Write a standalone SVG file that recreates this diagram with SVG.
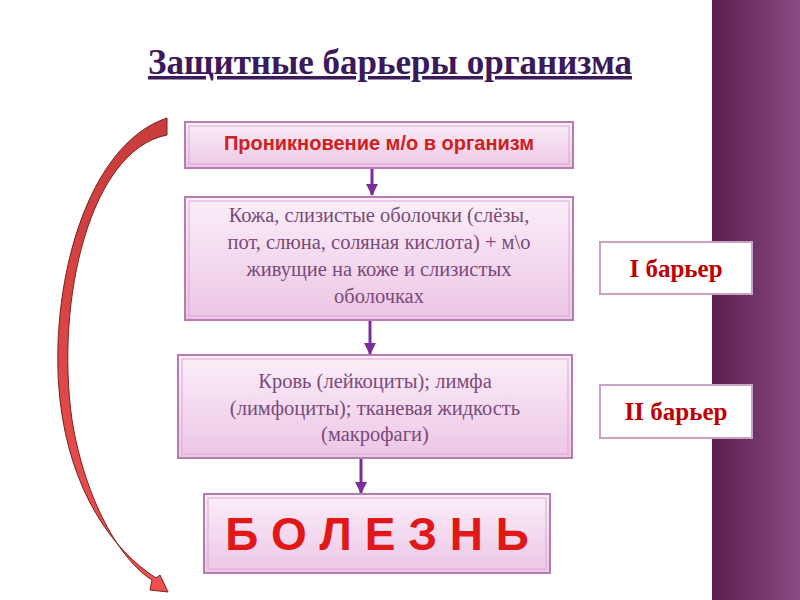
<svg xmlns="http://www.w3.org/2000/svg" width="800" height="600" viewBox="0 0 800 600">
<defs>
<linearGradient id="pk" x1="0" y1="0" x2="0" y2="1"><stop offset="0" stop-color="#fbeef8"/><stop offset="1" stop-color="#ecc6e6"/></linearGradient>
<linearGradient id="band" x1="0" y1="0" x2="1" y2="0"><stop offset="0" stop-color="#5a1e4e"/><stop offset="1" stop-color="#8a4a82"/></linearGradient>
<linearGradient id="red" x1="0" y1="0" x2="0" y2="1"><stop offset="0" stop-color="#c83c3c"/><stop offset="1" stop-color="#f05050"/></linearGradient>
<marker id="ah" markerWidth="12" markerHeight="12" refX="11" refY="6" orient="auto" markerUnits="userSpaceOnUse"><path d="M0,0 L12,6 L0,12 Z" fill="#7a2e9a"/></marker>
<style>
.box{fill:url(#pk);stroke:#b67bb0;stroke-width:2}
.inner{fill:none;stroke:#d9a8d4;stroke-width:1}
.t{font-family:"Liberation Serif",serif;font-size:20.5px;fill:#7a4a78;text-anchor:middle}
.lbl{font-family:"Liberation Serif",serif;font-size:25px;font-weight:bold;fill:#c00000;text-anchor:middle}
.lb{fill:#fff;stroke:#c9a3c4;stroke-width:2}
.c{stroke:#7a2e9a;stroke-width:3;fill:none}
</style>
</defs>
<rect width="800" height="600" fill="#fff"/>
<rect x="712" y="0" width="88" height="600" fill="url(#band)"/>
<text x="390" y="74" font-family="Liberation Serif,serif" font-size="35" font-weight="bold" fill="#3a1a5a" text-anchor="middle" text-decoration="underline">Защитные барьеры организма</text>
<g id="arc"><path d="M167,118 L167,135 C90,150 55,300 72,420 C85,500 120,560 152,580 L150,590 L168,592 L160,575 L156,578 C112,550 70,490 60,400 C48,290 85,145 167,118 Z" fill="url(#red)" stroke="#7a2020" stroke-width="1"/></g>
<g id="connectors">
<line class="c" x1="372" y1="168" x2="372" y2="195" marker-end="url(#ah)"/>
<line class="c" x1="370" y1="320" x2="370" y2="354" marker-end="url(#ah)"/>
<line class="c" x1="361" y1="458" x2="361" y2="493" marker-end="url(#ah)"/>
</g>
<g id="n1"><rect class="box" x="185" y="122" width="388" height="46"/><rect class="inner" x="189" y="126" width="380" height="38"/>
<text x="379" y="150" font-family="Liberation Sans,sans-serif" font-size="20" font-weight="bold" fill="#d02020" text-anchor="middle">Проникновение м/о в организм</text></g>
<g id="n2"><rect class="box" x="185" y="197" width="388" height="123"/><rect class="inner" x="189" y="201" width="380" height="115"/>
<text class="t" x="379" y="222">Кожа, слизистые оболочки (слёзы,</text>
<text class="t" x="379" y="249">пот, слюна, соляная кислота) + м\о</text>
<text class="t" x="379" y="276">живущие на коже и слизистых</text>
<text class="t" x="379" y="303">оболочках</text></g>
<g id="n3"><rect class="box" x="178" y="355" width="394" height="103"/><rect class="inner" x="182" y="359" width="386" height="95"/>
<text class="t" x="375" y="388">Кровь (лейкоциты); лимфа</text>
<text class="t" x="375" y="415">(лимфоциты); тканевая жидкость</text>
<text class="t" x="375" y="441">(макрофаги)</text></g>
<g id="n4"><rect class="box" x="204" y="494" width="346" height="79"/><rect class="inner" x="208" y="498" width="338" height="71"/>
<text x="377" y="550" font-family="Liberation Sans,sans-serif" font-size="46" font-weight="bold" fill="#e01818" text-anchor="middle">Б О Л Е З Н Ь</text></g>
<g id="b1"><rect class="lb" x="600" y="242" width="152" height="52"/><text class="lbl" x="676" y="277">I  барьер</text></g>
<g id="b2"><rect class="lb" x="600" y="385" width="152" height="53"/><text class="lbl" x="676" y="420">II  барьер</text></g>
</svg>
